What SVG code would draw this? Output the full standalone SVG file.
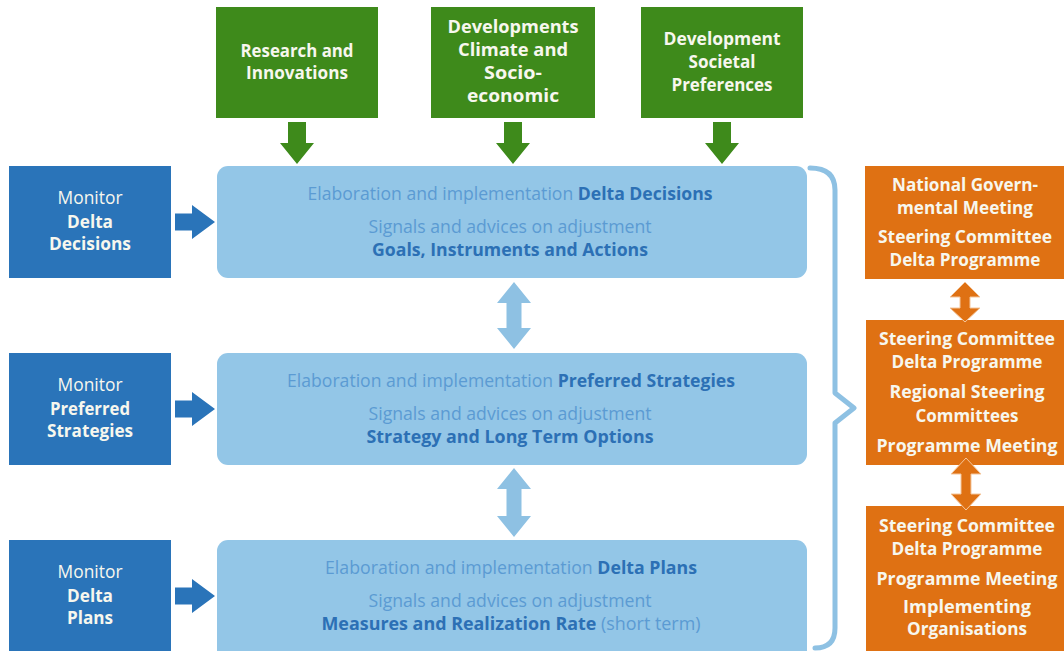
<svg xmlns="http://www.w3.org/2000/svg" width="1064" height="651" viewBox="0 0 1064 651">
<style>
.green{fill:#3e8a1b}
.mon{fill:#2a74b9}
.panel{fill:#93c6e7}
.org{fill:#df7113}
.t{font-family:"Open Sans","Noto Sans","DejaVu Sans",sans-serif;font-size:18px;text-anchor:middle}
.b{font-weight:bold}
.w{fill:#f7f7ee}
.pr{fill:#5b9bd3}
.pb{fill:#2c70b5;font-weight:bold}
.garrow{fill:#3e8a1b}
.barrow{fill:#2a74b9}
.larrow{fill:#8ec1e3}
.oarrow{fill:#df7113;stroke:#f4c69c;stroke-width:1}
.brace{fill:none;stroke:#8ec1e3;stroke-width:5;stroke-linejoin:round;stroke-linecap:round}
</style>
<rect width="1064" height="651" fill="#ffffff"/>

<g id="research">
<rect class="green" x="216" y="7" width="162" height="111"/>
<text class="t b w" x="297" y="57" textLength="113" lengthAdjust="spacingAndGlyphs">Research and</text>
<text class="t b w" x="297" y="79" textLength="102" lengthAdjust="spacingAndGlyphs">Innovations</text>
</g>
<g id="climate">
<rect class="green" x="431" y="7" width="164" height="111"/>
<text class="t b w" x="513" y="33" textLength="131" lengthAdjust="spacingAndGlyphs">Developments</text>
<text class="t b w" x="513" y="56" textLength="110" lengthAdjust="spacingAndGlyphs">Climate and</text>
<text class="t b w" x="513" y="79" textLength="58" lengthAdjust="spacingAndGlyphs">Socio-</text>
<text class="t b w" x="513" y="102" textLength="92" lengthAdjust="spacingAndGlyphs">economic</text>
</g>
<g id="societal">
<rect class="green" x="641" y="7" width="162" height="111"/>
<text class="t b w" x="722" y="45" textLength="117" lengthAdjust="spacingAndGlyphs">Development</text>
<text class="t b w" x="722" y="68" textLength="67" lengthAdjust="spacingAndGlyphs">Societal</text>
<text class="t b w" x="722" y="91" textLength="101" lengthAdjust="spacingAndGlyphs">Preferences</text>
</g>

<g id="monitor-decisions">
<rect class="mon" x="9" y="166" width="162" height="112"/>
<text class="t w" x="90" y="204" textLength="65" lengthAdjust="spacingAndGlyphs">Monitor</text>
<text class="t b w" x="90" y="228" textLength="46" lengthAdjust="spacingAndGlyphs">Delta</text>
<text class="t b w" x="90" y="250" textLength="82" lengthAdjust="spacingAndGlyphs">Decisions</text>
</g>
<g id="monitor-strategies">
<rect class="mon" x="9" y="353" width="162" height="112"/>
<text class="t w" x="90" y="391" textLength="65" lengthAdjust="spacingAndGlyphs">Monitor</text>
<text class="t b w" x="90" y="415" textLength="80" lengthAdjust="spacingAndGlyphs">Preferred</text>
<text class="t b w" x="90" y="437" textLength="86" lengthAdjust="spacingAndGlyphs">Strategies</text>
</g>
<g id="monitor-plans">
<rect class="mon" x="9" y="540" width="162" height="112"/>
<text class="t w" x="90" y="578" textLength="65" lengthAdjust="spacingAndGlyphs">Monitor</text>
<text class="t b w" x="90" y="602" textLength="46" lengthAdjust="spacingAndGlyphs">Delta</text>
<text class="t b w" x="90" y="624" textLength="46" lengthAdjust="spacingAndGlyphs">Plans</text>
</g>

<g id="panel-decisions">
<rect class="panel" x="217" y="166" width="590" height="112" rx="11"/>
<text class="t" x="510" y="200" textLength="405" lengthAdjust="spacingAndGlyphs"><tspan class="pr">Elaboration and implementation </tspan><tspan class="pb">Delta Decisions</tspan></text>
<text class="t pr" x="510" y="233" textLength="283" lengthAdjust="spacingAndGlyphs">Signals and advices on adjustment</text>
<text class="t pb" x="510" y="256" textLength="276" lengthAdjust="spacingAndGlyphs">Goals, Instruments and Actions</text>
</g>
<g id="panel-strategies">
<rect class="panel" x="217" y="353" width="590" height="112" rx="11"/>
<text class="t" x="511" y="387" textLength="448" lengthAdjust="spacingAndGlyphs"><tspan class="pr">Elaboration and implementation </tspan><tspan class="pb">Preferred Strategies</tspan></text>
<text class="t pr" x="510" y="420" textLength="283" lengthAdjust="spacingAndGlyphs">Signals and advices on adjustment</text>
<text class="t pb" x="510" y="443" textLength="287" lengthAdjust="spacingAndGlyphs">Strategy and Long Term Options</text>
</g>
<g id="panel-plans">
<rect class="panel" x="217" y="540" width="590" height="122" rx="11"/>
<text class="t" x="511" y="574" textLength="372" lengthAdjust="spacingAndGlyphs"><tspan class="pr">Elaboration and implementation </tspan><tspan class="pb">Delta Plans</tspan></text>
<text class="t pr" x="510" y="607" textLength="283" lengthAdjust="spacingAndGlyphs">Signals and advices on adjustment</text>
<text class="t" x="511" y="630" textLength="379" lengthAdjust="spacingAndGlyphs"><tspan class="pb">Measures and Realization Rate</tspan><tspan class="pr"> (short term)</tspan></text>
</g>

<g id="org-national">
<rect class="org" x="865" y="166" width="205" height="113"/>
<text class="t b w" x="965" y="191" font-size="17" textLength="146" lengthAdjust="spacingAndGlyphs">National Govern-</text>
<text class="t b w" x="965" y="214" font-size="17" textLength="136" lengthAdjust="spacingAndGlyphs">mental Meeting</text>
<text class="t b w" x="965" y="243" textLength="174" lengthAdjust="spacingAndGlyphs">Steering Committee</text>
<text class="t b w" x="965" y="266" textLength="151" lengthAdjust="spacingAndGlyphs">Delta Programme</text>
</g>
<g id="org-regional">
<rect class="org" x="866" y="320" width="204" height="145"/>
<text class="t b w" x="967" y="345" textLength="176" lengthAdjust="spacingAndGlyphs">Steering Committee</text>
<text class="t b w" x="967" y="368" textLength="151" lengthAdjust="spacingAndGlyphs">Delta Programme</text>
<text class="t b w" x="967" y="398" textLength="155" lengthAdjust="spacingAndGlyphs">Regional Steering</text>
<text class="t b w" x="967" y="422" textLength="103" lengthAdjust="spacingAndGlyphs">Committees</text>
<text class="t b w" x="967" y="452" textLength="181" lengthAdjust="spacingAndGlyphs">Programme Meeting</text>
</g>
<g id="org-implementing">
<rect class="org" x="866" y="506" width="204" height="150"/>
<text class="t b w" x="967" y="532" textLength="176" lengthAdjust="spacingAndGlyphs">Steering Committee</text>
<text class="t b w" x="967" y="555" textLength="151" lengthAdjust="spacingAndGlyphs">Delta Programme</text>
<text class="t b w" x="967" y="585" textLength="181" lengthAdjust="spacingAndGlyphs">Programme Meeting</text>
<text class="t b w" x="967" y="613" textLength="128" lengthAdjust="spacingAndGlyphs">Implementing</text>
<text class="t b w" x="967" y="635" textLength="120" lengthAdjust="spacingAndGlyphs">Organisations</text>
</g>

<g id="connectors">
<polygon class="garrow" points="288,122 306,122 306,143 314,143 297,164 280,143 288,143"/>
<polygon class="garrow" points="504,122 522,122 522,143 530,143 513,164 496,143 504,143"/>
<polygon class="garrow" points="713,122 731,122 731,143 739,143 722,164 705,143 713,143"/>

<polygon class="barrow" points="175,213.5 192,213.5 192,205 215,222 192,239 192,230.5 175,230.5"/>
<polygon class="barrow" points="175,400.5 192,400.5 192,392 215,409 192,426 192,417.5 175,417.5"/>
<polygon class="barrow" points="175,587.5 192,587.5 192,579 215,596 192,613 192,604.5 175,604.5"/>

<polygon class="larrow" points="514,282 531,303 521.5,303 521.5,328 531,328 514,349 497,328 506.5,328 506.5,303 497,303"/>
<polygon class="larrow" points="514,468 531,489 521.5,489 521.5,516 531,516 514,537 497,516 506.5,516 506.5,489 497,489"/>

<polygon class="oarrow" points="965,282 980,297 970,297 970,308 980,308 965,322 950,308 960,308 960,297 950,297"/>
<polygon class="oarrow" points="966,458 981,474 971,474 971,494 981,494 966,510 951,494 961,494 961,474 951,474"/>

<path class="brace" d="M 810 168 Q 835 168 835 190 L 835 393 L 854 408 L 835 423 L 835 628 Q 835 648 815 648"/>
</g>
</svg>
